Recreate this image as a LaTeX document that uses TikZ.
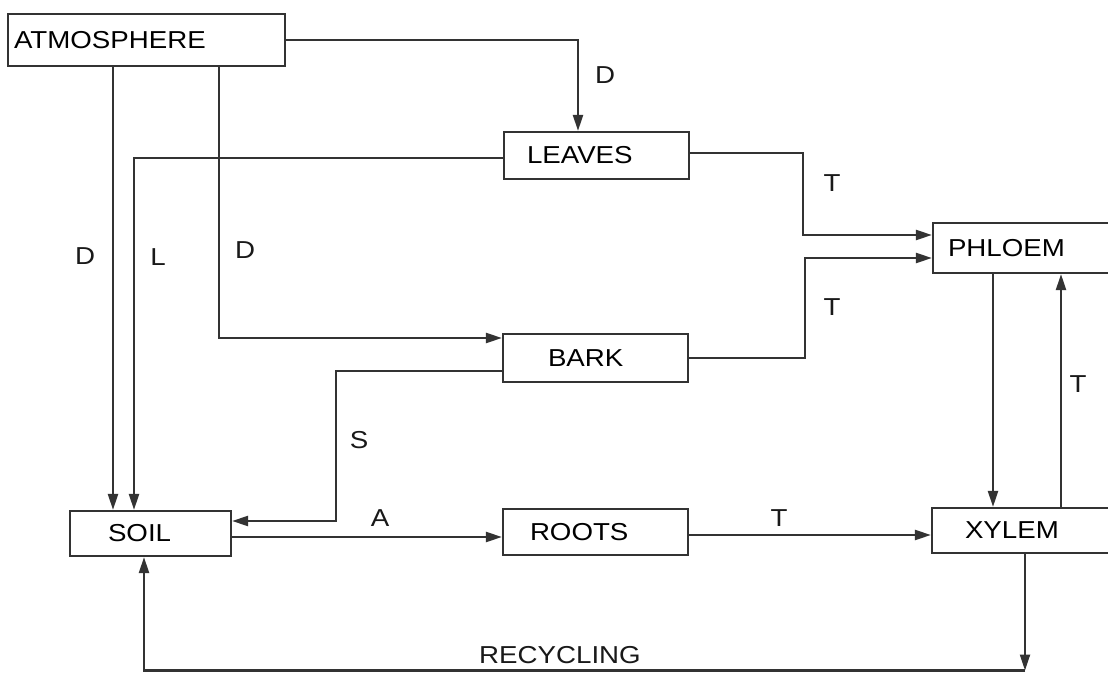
\documentclass[tikz,border=0pt]{standalone}
\usepackage{fontspec}
\setmainfont{Liberation Sans}[FakeStretch=1.13]
\usetikzlibrary{arrows.meta,calc}
\definecolor{ink}{HTML}{333333}
\begin{document}
\begin{tikzpicture}[x=1pt,y=1pt,
  font=\fontsize{24.5}{28}\selectfont,
  box/.style={draw=ink,line width=2.2pt,inner xsep=0pt,inner ysep=0pt,align=left,anchor=center},
  arr/.style={draw=ink,line width=2.2pt,-{Triangle[length=16pt,width=10pt]}},
  lab/.style={text=black!90,inner sep=0pt}]
\useasboundingbox (0,0) rectangle (1108,673);
\clip (0,0) rectangle (1108,673);
\fill[white] (0,0) rectangle (1108,673);
% boxes
\node[box,minimum width=277pt,text width=277pt,minimum height=52pt] (ATM) at (146.5,633) {\hspace*{6pt}ATMOSPHERE};
\node[box,minimum width=185pt,text width=185pt,minimum height=47pt] (LEAVES) at (596.5,517.5) {\hspace*{23pt}LEAVES};
\node[box,minimum width=185pt,text width=185pt,minimum height=48pt] (BARK) at (595.5,315) {\hspace*{45pt}BARK};
\node[box,minimum width=185pt,text width=185pt,minimum height=46pt] (ROOTS) at (595.5,141) {\hspace*{27pt}ROOTS};
\node[box,minimum width=161pt,text width=161pt,minimum height=45pt] (SOIL) at (150.5,139.5) {\hspace*{38pt}SOIL};
\node[box,minimum width=181pt,text width=181pt,minimum height=50pt] (PHLOEM) at (1023.5,425) {\hspace*{15pt}PHLOEM};
\node[box,minimum width=182pt,text width=182pt,minimum height=45pt] (XYLEM) at (1023,142.5) {\hspace*{33pt}XYLEM};
% connectors
\draw[arr] (ATM.east) -| ([xshift=-18.5]LEAVES.north);
\coordinate (s1) at ([xshift=-37.5]SOIL.north);
\draw[arr] (s1 |- ATM.south) -- (s1);
\draw[arr] ([xshift=72.5]ATM.south) |- ([yshift=20]BARK.west);
\draw[arr] ([yshift=-2.5]LEAVES.west) -| ([xshift=-16.5]SOIL.north);
\draw[arr] ([yshift=2.5]LEAVES.east) -| ($(PHLOEM.west)+(-129,13)$) -- ([yshift=13]PHLOEM.west);
\draw[arr] (BARK.east) -| ($(PHLOEM.west)+(-127,-10)$) -- ([yshift=-10]PHLOEM.west);
\draw[arr] ([yshift=-13]BARK.west) -| ($(SOIL.east)+(104,12.5)$) -- ([yshift=12.5]SOIL.east);
\draw[arr] ([yshift=-3.5]SOIL.east) coordinate (a1) -- (a1 -| ROOTS.west);
\draw[arr] ([yshift=-3]ROOTS.east) coordinate (a2) -- (a2 -| XYLEM.west);
\draw[arr] ([xshift=-30.5]PHLOEM.south) coordinate (a3) -- (a3 |- XYLEM.north);
\draw[arr] ([xshift=38]XYLEM.north) coordinate (a4) -- (a4 |- PHLOEM.south);
\coordinate (rc) at (1025,2.5);
\draw[arr] (XYLEM.south -| rc) -- (rc);
\draw[arr] (rc) -| ([xshift=-6.5]SOIL.south);
% labels
\node[lab] (dA) at (605,598) {D};
\node[lab] (tL) at (832,490) {T};
\node[lab] (dS) at (85,417) {D};
\node[lab] (lL) at (158,416) {L};
\node[lab] (dB) at (245,423) {D};
\node[lab] (tB) at (832,366) {T};
\node[lab] (tX) at (1078,289) {T};
\node[lab] (sB) at (359,233) {S};
\node[lab] (aR) at (380,155) {A};
\node[lab] (tR) at (779,155) {T};
\node[lab] (rec) at (560,18) {RECYCLING};
\end{tikzpicture}
\end{document}
